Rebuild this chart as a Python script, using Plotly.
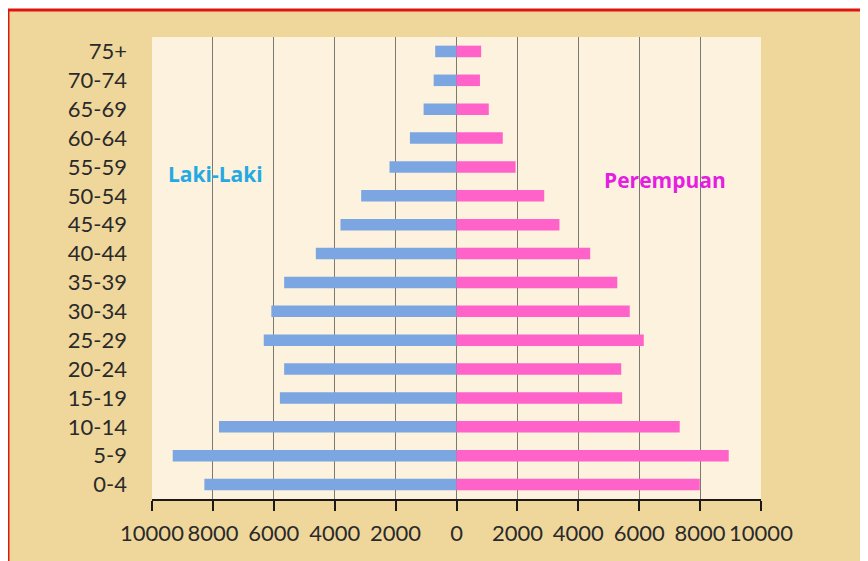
import plotly.graph_objects as go

# age groups, bottom to top
ageGroups = ["0-4", "5-9", "10-14", "15-19", "20-24", "25-29", "30-34", "35-39",
             "40-44", "45-49", "50-54", "55-59", "60-64", "65-69", "70-74", "75+"]

# Laki-Laki (male) counts
maleCounts = [8280, 9320, 7800, 5800, 5660, 6330, 6080, 5660,
              4620, 3810, 3130, 2200, 1530, 1080, 750, 700]

# Perempuan (female) counts
femaleCounts = [7990, 8940, 7330, 5440, 5410, 6150, 5690, 5280,
                4390, 3380, 2880, 1940, 1520, 1060, 770, 810]

tickValues = [-10000, -8000, -6000, -4000, -2000, 0, 2000, 4000, 6000, 8000, 10000]
tickLabels = [str(abs(v)) for v in tickValues]

fig = go.Figure()
fig.add_trace(go.Bar(
    y=ageGroups,
    x=[-v for v in maleCounts],
    orientation="h",
    name="Laki-Laki",
    marker=dict(color="#7BA6E2", line=dict(width=0)),
))
fig.add_trace(go.Bar(
    y=ageGroups,
    x=femaleCounts,
    orientation="h",
    name="Perempuan",
    marker=dict(color="#FF62C8", line=dict(width=0)),
))

# page body adds ~8px offset, so margins are shifted to compensate
fig.update_layout(
    width=868,
    height=561,
    barmode="relative",
    bargap=0.6,
    showlegend=False,
    paper_bgcolor="#EFD79C",
    plot_bgcolor="#FCF2DD",
    margin=dict(l=144, r=115, t=29, b=70),
    font=dict(family="Lato", size=22, color="#2A2A2A"),
    xaxis=dict(
        range=[-10000, 10000],
        tickvals=tickValues,
        ticktext=tickLabels,
        showgrid=True,
        gridcolor="#7A7A72",
        gridwidth=1,
        zeroline=False,
        showline=True,
        linecolor="#1A1A1A",
        linewidth=1.5,
        ticks="outside",
        ticklen=10,
        tickcolor="#1A1A1A",
        tickwidth=1.5,
        ticklabelstandoff=4,
    ),
    yaxis=dict(
        showgrid=False,
        zeroline=False,
        showline=False,
        ticks="",
        ticklabelstandoff=24,
    ),
    annotations=[
        dict(x=-7900, y=10.75, text="<b>Laki-Laki</b>", showarrow=False,
             font=dict(family="Open Sans", size=21, color="#25A9E2")),
        dict(x=6850, y=10.55, text="<b>Perempuan</b>", showarrow=False,
             font=dict(family="Open Sans", size=21, color="#E51EE0")),
    ],
    shapes=[
        # white strips outside the red frame
        dict(type="rect", xref="paper", yref="paper", x0=-0.3, x1=1.3,
             y0=1.0584, y1=1.2, fillcolor="white", line=dict(width=0), layer="above"),
        dict(type="rect", xref="paper", yref="paper", x0=-0.3, x1=-0.2365,
             y0=-0.2, y1=1.2, fillcolor="white", line=dict(width=0), layer="above"),
        # red frame
        dict(type="rect", xref="paper", yref="paper", x0=-0.2365, x1=1.3,
             y0=-0.3, y1=1.0584, line=dict(color="#E0140E", width=3),
             fillcolor="rgba(0,0,0,0)", layer="above"),
    ],
)

fig.write_html("out.html")
